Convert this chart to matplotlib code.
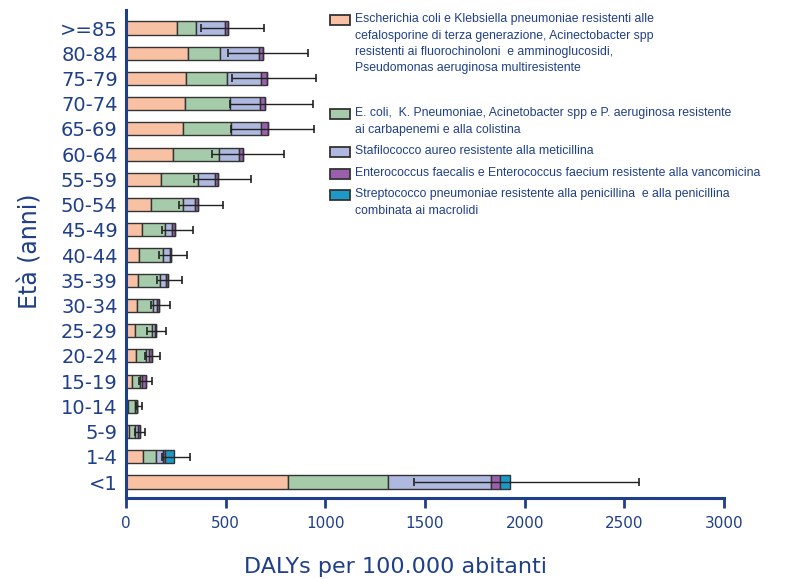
import numpy as np
import matplotlib
matplotlib.use("Agg")
import matplotlib.pyplot as plt
from matplotlib.patches import Rectangle

# age groups, top to bottom as in the chart
ages = [">=85", "80-84", "75-79", "70-74", "65-69", "60-64", "55-59", "50-54",
        "45-49", "40-44", "35-39", "30-34", "25-29", "20-24", "15-19", "10-14",
        "5-9", "1-4", "<1"]

# DALYs per 100.000 by pathogen group (stacked segments)
ecoli_kleb = [257, 312, 302, 295, 288, 235, 175, 123, 82, 65, 60, 53, 43, 48, 32, 10, 15, 87, 815]
carbapenem = [95, 158, 205, 227, 240, 232, 187, 164, 113, 122, 113, 80, 85, 50, 38, 33, 28, 61, 500]
mrsa = [146, 195, 171, 151, 149, 98, 83, 61, 37, 33, 29, 24, 17, 17, 12, 14, 17, 37, 515]
vre = [12, 22, 29, 22, 33, 22, 15, 12, 16, 8, 10, 8, 7, 17, 16, 0, 8, 13, 44]
strep = [0, 0, 0, 0, 0, 0, 0, 0, 0, 0, 0, 0, 0, 0, 0, 0, 0, 42, 54]

# uncertainty interval bounds
ci_low = [377, 510, 532, 522, 528, 432, 340, 267, 182, 168, 157, 123, 107, 93, 65, 48, 43, 182, 1443]
ci_high = [692, 912, 953, 940, 945, 792, 628, 487, 335, 305, 282, 220, 203, 173, 128, 78, 93, 323, 2574]

labels = [
    "Escherichia coli e Klebsiella pneumoniae resistenti alle\n"
    "cefalosporine di terza generazione, Acinectobacter spp\n"
    "resistenti ai fluorochinoloni  e amminoglucosidi,\n"
    "Pseudomonas aeruginosa multiresistente",
    "E. coli,  K. Pneumoniae, Acinetobacter spp e P. aeruginosa resistente\n"
    "ai carbapenemi e alla colistina",
    "Stafilococco aureo resistente alla meticillina",
    "Enterococcus faecalis e Enterococcus faecium resistente alla vancomicina",
    "Streptococco pneumoniae resistente alla penicillina  e alla penicillina\n"
    "combinata ai macrolidi",
]
colors = ["#F8C1A4", "#A6CBAA", "#AFB8DE", "#9B5FAE", "#1B9AC8"]
navy = "#1F3F8A"

series = [ecoli_kleb, carbapenem, mrsa, vre, strep]
n = len(ages)
y = np.arange(n)[::-1]

W, H = 800, 579
fig = plt.figure(figsize=(W / 100, H / 100), dpi=100)
ax = fig.add_axes([0.1575, 0.14, 0.7475, 0.843])

left = np.zeros(n)
for vals, col in zip(series, colors):
    vals = np.array(vals, dtype=float)
    ax.barh(y, vals, left=left, height=0.52, color=col,
            edgecolor="#333333", linewidth=1.0)
    left += vals

totals = left
lo = np.array(ci_low, dtype=float)
hi = np.array(ci_high, dtype=float)
ax.errorbar(totals, y, xerr=[totals - lo, hi - totals], fmt="none",
            ecolor="#222222", elinewidth=1.0, capsize=3, capthick=1.2)

ax.set_xlim(0, 3000)
ax.set_ylim(-0.63, n - 1 + 0.72)
ax.set_xticks(np.arange(0, 3001, 500))
ax.set_yticks(y)
ax.set_yticklabels(ages)

for s in ["top", "right"]:
    ax.spines[s].set_visible(False)
for s in ["left", "bottom"]:
    ax.spines[s].set_color(navy)
    ax.spines[s].set_linewidth(2.2)

ax.tick_params(axis="x", colors=navy, labelsize=11, length=7, width=2, pad=6)
ax.tick_params(axis="y", colors=navy, labelsize=14, length=0, pad=6)

ax.set_xlabel("DALYs per 100.000 abitanti", fontsize=16, color=navy)
ax.xaxis.set_label_coords(0.451, -0.12)
ax.set_ylabel("Età (anni)", fontsize=17, color=navy)
ax.yaxis.set_label_coords(-0.14, 0.505)

# legend: swatch aligned with the first line of each entry
legend_rows = [20, 114, 152, 174, 195]  # pixel rows of first text line
for lab, col, py in zip(labels, colors, legend_rows):
    fig.patches.append(Rectangle((330 / W, 1 - (py + 5) / H), 20 / W, 10 / H,
                                 transform=fig.transFigure, facecolor=col,
                                 edgecolor="#333333", linewidth=1.3))
    fig.text(355 / W, 1 - (py - 7) / H, lab, color=navy, fontsize=8.8,
             family="Liberation Sans", va="top", ha="left", linespacing=1.5)

fig.savefig("out.png", dpi=100)
